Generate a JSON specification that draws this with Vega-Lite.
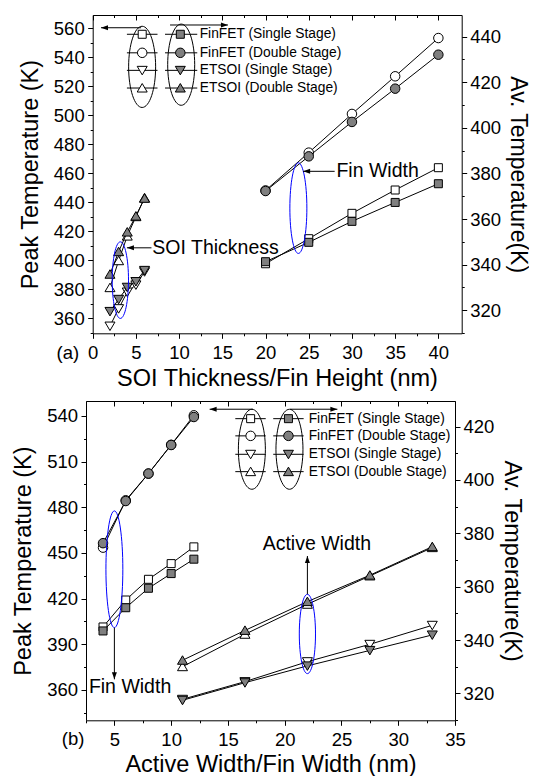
{
"$schema":"https://vega.github.io/schema/vega-lite/v6.json",
"padding":{"left":11,"top":14,"right":0,"bottom":0},
"spacing":9,
"config":{"font":"Liberation Sans","view":{"stroke":null},
"axis":{"grid":false,"domainColor":"black","domainWidth":1,"tickColor":"black","tickWidth":1,"labelColor":"black","labelFont":"Liberation Sans","labelFontSize":18.5,"titleFont":"Liberation Sans","titleFontSize":23.5,"titleFontWeight":"normal","titleColor":"black","labelOverlap":false,"labelFlush":false},
"text":{"font":"Liberation Sans","color":"black"}},
"datasets":{
"a_peak":[
{"series":"FinFET Single","x":20,"t":397.5},{"series":"FinFET Single","x":25,"t":414.8},{"series":"FinFET Single","x":30,"t":432.3},{"series":"FinFET Single","x":35,"t":448.4},{"series":"FinFET Single","x":40,"t":463.8},
{"series":"FinFET Double","x":20,"t":448.1},{"series":"FinFET Double","x":25,"t":474.2},{"series":"FinFET Double","x":30,"t":500.9},{"series":"FinFET Double","x":35,"t":526.9},{"series":"FinFET Double","x":40,"t":553.3},
{"series":"ETSOI Single","x":2,"t":354.5},{"series":"ETSOI Single","x":3,"t":366.5},{"series":"ETSOI Single","x":4,"t":378},{"series":"ETSOI Single","x":5,"t":382.9},{"series":"ETSOI Single","x":6,"t":392},
{"series":"ETSOI Double","x":2,"t":381},{"series":"ETSOI Double","x":3,"t":399.6},{"series":"ETSOI Double","x":4,"t":416.6},{"series":"ETSOI Double","x":5,"t":430},{"series":"ETSOI Double","x":6,"t":443}],
"a_avg":[
{"series":"FinFET Single","x":20,"t":341.3},{"series":"FinFET Single","x":25,"t":349.8},{"series":"FinFET Single","x":30,"t":359.0},{"series":"FinFET Single","x":35,"t":367.3},{"series":"FinFET Single","x":40,"t":375.5},
{"series":"FinFET Double","x":20,"t":372.3},{"series":"FinFET Double","x":25,"t":387.5},{"series":"FinFET Double","x":30,"t":402.6},{"series":"FinFET Double","x":35,"t":417.2},{"series":"FinFET Double","x":40,"t":432.1},
{"series":"ETSOI Single","x":2,"t":319.5},{"series":"ETSOI Single","x":3,"t":324.8},{"series":"ETSOI Single","x":4,"t":330.1},{"series":"ETSOI Single","x":5,"t":332.6},{"series":"ETSOI Single","x":6,"t":337.5},
{"series":"ETSOI Double","x":2,"t":335.8},{"series":"ETSOI Double","x":3,"t":345.7},{"series":"ETSOI Double","x":4,"t":354.3},{"series":"ETSOI Double","x":5,"t":361.3},{"series":"ETSOI Double","x":6,"t":369.1}],
"b_peak":[
{"series":"FinFET Single","x":4,"t":401.4},{"series":"FinFET Single","x":6,"t":419.1},{"series":"FinFET Single","x":8,"t":432.7},{"series":"FinFET Single","x":10,"t":443.0},{"series":"FinFET Single","x":12,"t":454.0},
{"series":"FinFET Double","x":4,"t":453.5},{"series":"FinFET Double","x":6,"t":484.6},{"series":"FinFET Double","x":8,"t":502.1},{"series":"FinFET Double","x":10,"t":521.0},{"series":"FinFET Double","x":12,"t":540.4},
{"series":"ETSOI Single","x":11,"t":353.9},{"series":"ETSOI Single","x":16.5,"t":365.5},{"series":"ETSOI Single","x":22,"t":378.6},{"series":"ETSOI Single","x":27.5,"t":390.0},{"series":"ETSOI Single","x":33,"t":402.5},
{"series":"ETSOI Double","x":11,"t":375.3},{"series":"ETSOI Double","x":16.5,"t":396.6},{"series":"ETSOI Double","x":22,"t":416.3},{"series":"ETSOI Double","x":27.5,"t":434.9},{"series":"ETSOI Double","x":33,"t":453.5}],
"b_avg":[
{"series":"FinFET Single","x":4,"t":343.4},{"series":"FinFET Single","x":6,"t":352.1},{"series":"FinFET Single","x":8,"t":359.4},{"series":"FinFET Single","x":10,"t":364.9},{"series":"FinFET Single","x":12,"t":370.3},
{"series":"FinFET Double","x":4,"t":376.3},{"series":"FinFET Double","x":6,"t":392.1},{"series":"FinFET Double","x":8,"t":402.4},{"series":"FinFET Double","x":10,"t":413.1},{"series":"FinFET Double","x":12,"t":423.6},
{"series":"ETSOI Single","x":11,"t":317.4},{"series":"ETSOI Single","x":16.5,"t":324.0},{"series":"ETSOI Single","x":22,"t":330.3},{"series":"ETSOI Single","x":27.5,"t":336.1},{"series":"ETSOI Single","x":33,"t":341.9},
{"series":"ETSOI Double","x":11,"t":332.4},{"series":"ETSOI Double","x":16.5,"t":343.6},{"series":"ETSOI Double","x":22,"t":354.4},{"series":"ETSOI Double","x":27.5,"t":364.3},{"series":"ETSOI Double","x":33,"t":375.0}],
"leg_a":[{"series":"FinFET Single","label":"FinFET (Single Stage)","y":555.9},{"series":"FinFET Double","label":"FinFET (Double Stage)","y":543.1},{"series":"ETSOI Single","label":"ETSOI (Single Stage)","y":531.0},{"series":"ETSOI Double","label":"ETSOI (Double Stage)","y":518.8}],
"leg_b":[{"series":"FinFET Single","label":"FinFET (Single Stage)","y":538.2},{"series":"FinFET Double","label":"FinFET (Double Stage)","y":526.9},{"series":"ETSOI Single","label":"ETSOI (Single Stage)","y":514.8},{"series":"ETSOI Double","label":"ETSOI (Double Stage)","y":503.4}],
"ell_a":[{"e":"soi","x":3.2,"y":386.2},{"e":"fin","x":23.8,"y":435.9},{"e":"leg1","x":5.72,"y":533.4},{"e":"leg2","x":10.24,"y":534.9}],
"ell_b":[{"e":"fin","x":5.0,"y":439.3},{"e":"act","x":22.0,"y":396.8},{"e":"leg1","x":17.11,"y":518.1},{"e":"leg2","x":20.42,"y":518.1}],
"arr_a":[{"dir":"left","x":5.6,"y":560.4,"x2":0.96,"y2":560.4},{"dir":"right","x":8.95,"y":562.3,"x2":15.65,"y2":562.3},{"dir":"left","x":6.8,"y":408.5,"x2":3.96,"y2":408.5},{"dir":"left","x":28.0,"y":461.3,"x2":24.35,"y2":461.3}],
"arr_b":[{"dir":"left","x":17.2,"y":544.4,"x2":13.39,"y2":544.4},{"dir":"right","x":20.48,"y":544.4,"x2":24.64,"y2":544.4},{"dir":"down","x":5.0,"y":400.9,"x2":5.0,"y2":367.0},{"dir":"up","x":22.0,"y":422.9,"x2":22.0,"y2":448.0}],
"txt_a":[{"label":"SOI Thickness","x":6.9,"y":408.5},{"label":"Fin Width","x":28.2,"y":461.3}],
"txt_b":[{"label":"Fin Width","x":6.38,"y":362.2},{"label":"Active Width","x":22.83,"y":455.7}],
"tag_a":[{"label":"(a)","x":-2.87,"y":335.8}],
"tag_b":[{"label":"(b)","x":1.36,"y":328}]
},
"vconcat":[
{
"width":375.7,"height":318.3,
"resolve":{"scale":{"x":"independent","y":"independent","shape":"independent","stroke":"independent"},"axis":{"x":"independent","y":"independent"}},
"layer":[
{"data":{"name":"a_peak"},"mark":{"type":"line","color":"black","strokeWidth":1},
"encoding":{"x":{"field":"x","type":"quantitative","scale":{"domain":[-0.775,42.7],"nice":false,"zero":false},
"axis":{"orient":"bottom","values":[0,2.5,5,7.5,10,12.5,15,17.5,20,22.5,25,27.5,30,32.5,35,37.5,40],"labelExpr":"datum.value % 5 === 0 ? datum.label : ''","tickSize":{"condition":{"test":"datum.value % 5 === 0","value":5},"value":2.5},"labelPadding":5,"labelOverlap":false,"labelFlush":false,"domainDash":[0,6.7,400,1],"title":"SOI Thickness/Fin Height (nm)","titlePadding":5,"titleX":191}},
"y":{"field":"t","type":"quantitative","scale":{"domain":[349.5,569.2],"nice":false,"zero":false},
"axis":{"orient":"left","offset":-6.7,"values":[350,360,370,380,390,400,410,420,430,440,450,460,470,480,490,500,510,520,530,540,550,560],"labelExpr":"datum.value % 20 === 0 ? datum.label : ''","tickSize":{"condition":{"test":"datum.value % 20 === 0","value":5},"value":2.5},"labelPadding":3.5,"labelOverlap":false,"title":"Peak Temperature (K)","titlePadding":11}},
"detail":{"field":"series"}}},
{"data":{"name":"a_peak"},"mark":{"type":"point","filled":true,"fill":"white","stroke":"black","strokeWidth":1,"size":100,"opacity":1},
"encoding":{"x":{"field":"x","type":"quantitative","scale":{"domain":[-0.775,42.7],"nice":false,"zero":false},"axis":null},
"y":{"field":"t","type":"quantitative","scale":{"domain":[349.5,569.2],"nice":false,"zero":false},"axis":null},
"shape":{"field":"series","type":"nominal","scale":{"domain":["FinFET Single","FinFET Double","ETSOI Single","ETSOI Double"],"range":["M-0.8,-0.8L0.8,-0.8L0.8,0.8L-0.8,0.8Z","M0,-0.95C0.525,-0.95 0.95,-0.525 0.95,0C0.95,0.525 0.525,0.95 0,0.95C-0.525,0.95 -0.95,0.525 -0.95,0C-0.95,-0.525 -0.525,-0.95 0,-0.95Z","M-1,-0.8L1,-0.8L0,0.9Z","M0,-0.9L1,0.8L-1,0.8Z"]},"legend":null}}},
{"data":{"name":"a_avg"},"mark":{"type":"line","color":"black","strokeWidth":1},
"encoding":{"x":{"field":"x","type":"quantitative","scale":{"domain":[-0.775,42.7],"nice":false,"zero":false},
"axis":{"orient":"top","values":[0,2.5,5,7.5,10,12.5,15,17.5,20,22.5,25,27.5,30,32.5,35,37.5,40],"labels":false,"tickSize":{"condition":{"test":"datum.value % 5 === 0","value":-5},"value":-2.5},"domainDash":[0,6.7,400,1],"title":null}},
"y":{"field":"t","type":"quantitative","scale":{"domain":[309.9,449.5],"nice":false,"zero":false},
"axis":{"orient":"right","values":[310,320,330,340,350,360,370,380,390,400,410,420,430,440],"labelExpr":"datum.value % 20 === 0 ? datum.label : ''","tickSize":{"condition":{"test":"datum.value % 20 === 0","value":5},"value":2.5},"labelPadding":3,"labelOverlap":false,"title":"Av. Temperature(K)","titleFontSize":23,"titlePadding":5}},
"detail":{"field":"series"}}},
{"data":{"name":"a_avg"},"mark":{"type":"point","filled":true,"fill":"#7f7f7f","stroke":"black","strokeWidth":1,"size":100,"opacity":1},
"encoding":{"x":{"field":"x","type":"quantitative","scale":{"domain":[-0.775,42.7],"nice":false,"zero":false},"axis":null},
"y":{"field":"t","type":"quantitative","scale":{"domain":[309.9,449.5],"nice":false,"zero":false},"axis":null},
"shape":{"field":"series","type":"nominal","scale":{"domain":["FinFET Single","FinFET Double","ETSOI Single","ETSOI Double"],"range":["M-0.8,-0.8L0.8,-0.8L0.8,0.8L-0.8,0.8Z","M0,-0.95C0.525,-0.95 0.95,-0.525 0.95,0C0.95,0.525 0.525,0.95 0,0.95C-0.525,0.95 -0.95,0.525 -0.95,0C-0.95,-0.525 -0.525,-0.95 0,-0.95Z","M-1,-0.8L1,-0.8L0,0.9Z","M0,-0.9L1,0.8L-1,0.8Z"]},"legend":null}}},
{"data":{"name":"leg_a"},"mark":{"type":"rule","color":"black","strokeWidth":1},
"encoding":{"x":{"datum":3.96,"type":"quantitative","scale":{"domain":[-0.775,42.7],"nice":false,"zero":false},"axis":null},"x2":{"datum":7.5},
"y":{"field":"y","type":"quantitative","scale":{"domain":[349.5,569.2],"nice":false,"zero":false},"axis":null}}},
{"data":{"name":"leg_a"},"mark":{"type":"rule","color":"black","strokeWidth":1},
"encoding":{"x":{"datum":8.37,"type":"quantitative","scale":{"domain":[-0.775,42.7],"nice":false,"zero":false},"axis":null},"x2":{"datum":12.1},
"y":{"field":"y","type":"quantitative","scale":{"domain":[349.5,569.2],"nice":false,"zero":false},"axis":null}}},
{"data":{"name":"leg_a"},"mark":{"type":"point","filled":true,"fill":"white","stroke":"black","strokeWidth":1,"size":100,"opacity":1},
"encoding":{"x":{"datum":5.73,"type":"quantitative","scale":{"domain":[-0.775,42.7],"nice":false,"zero":false},"axis":null},
"y":{"field":"y","type":"quantitative","scale":{"domain":[349.5,569.2],"nice":false,"zero":false},"axis":null},
"shape":{"field":"series","type":"nominal","scale":{"domain":["FinFET Single","FinFET Double","ETSOI Single","ETSOI Double"],"range":["M-0.8,-0.8L0.8,-0.8L0.8,0.8L-0.8,0.8Z","M0,-0.95C0.525,-0.95 0.95,-0.525 0.95,0C0.95,0.525 0.525,0.95 0,0.95C-0.525,0.95 -0.95,0.525 -0.95,0C-0.95,-0.525 -0.525,-0.95 0,-0.95Z","M-1,-0.8L1,-0.8L0,0.9Z","M0,-0.9L1,0.8L-1,0.8Z"]},"legend":null}}},
{"data":{"name":"leg_a"},"mark":{"type":"point","filled":true,"fill":"#7f7f7f","stroke":"black","strokeWidth":1,"size":100,"opacity":1},
"encoding":{"x":{"datum":10.14,"type":"quantitative","scale":{"domain":[-0.775,42.7],"nice":false,"zero":false},"axis":null},
"y":{"field":"y","type":"quantitative","scale":{"domain":[349.5,569.2],"nice":false,"zero":false},"axis":null},
"shape":{"field":"series","type":"nominal","scale":{"domain":["FinFET Single","FinFET Double","ETSOI Single","ETSOI Double"],"range":["M-0.8,-0.8L0.8,-0.8L0.8,0.8L-0.8,0.8Z","M0,-0.95C0.525,-0.95 0.95,-0.525 0.95,0C0.95,0.525 0.525,0.95 0,0.95C-0.525,0.95 -0.95,0.525 -0.95,0C-0.95,-0.525 -0.525,-0.95 0,-0.95Z","M-1,-0.8L1,-0.8L0,0.9Z","M0,-0.9L1,0.8L-1,0.8Z"]},"legend":null}}},
{"data":{"name":"leg_a"},"mark":{"type":"text","align":"left","baseline":"middle","fontSize":13.8,"color":"black"},
"encoding":{"x":{"datum":12.38,"type":"quantitative","scale":{"domain":[-0.775,42.7],"nice":false,"zero":false},"axis":null},
"y":{"field":"y","type":"quantitative","scale":{"domain":[349.5,569.2],"nice":false,"zero":false},"axis":null},
"text":{"field":"label"}}},
{"data":{"name":"ell_a"},"mark":{"type":"point","filled":false,"size":400,"strokeWidth":1,"opacity":1},
"encoding":{"x":{"field":"x","type":"quantitative","scale":{"domain":[-0.775,42.7],"nice":false,"zero":false},"axis":null},
"y":{"field":"y","type":"quantitative","scale":{"domain":[349.5,569.2],"nice":false,"zero":false},"axis":null},
"shape":{"field":"e","type":"nominal","scale":{"domain":["soi","fin","leg1","leg2"],"range":["M0,-3.83C0.45,-3.83 0.815,-2.115 0.815,0C0.815,2.115 0.45,3.83 0,3.83C-0.45,3.83 -0.815,2.115 -0.815,0C-0.815,-2.115 -0.45,-3.83 0,-3.83Z","M0,-4.53C0.469,-4.53 0.85,-2.502 0.85,0C0.85,2.502 0.469,4.53 0,4.53C-0.469,4.53 -0.85,2.502 -0.85,0C-0.85,-2.502 -0.469,-4.53 0,-4.53Z","M0,-4.06C0.746,-4.06 1.35,-2.242 1.35,0C1.35,2.242 0.746,4.06 0,4.06C-0.746,4.06 -1.35,2.242 -1.35,0C-1.35,-2.242 -0.746,-4.06 0,-4.06Z","M0,-4.06C0.746,-4.06 1.35,-2.242 1.35,0C1.35,2.242 0.746,4.06 0,4.06C-0.746,4.06 -1.35,2.242 -1.35,0C-1.35,-2.242 -0.746,-4.06 0,-4.06Z"]},"legend":null},
"stroke":{"field":"e","type":"nominal","scale":{"domain":["soi","fin","leg1","leg2"],"range":["#0000ff","#0000ff","black","black"]},"legend":null}}},
{"data":{"name":"arr_a"},"mark":{"type":"rule","color":"black","strokeWidth":1},
"encoding":{"x":{"field":"x","type":"quantitative","scale":{"domain":[-0.775,42.7],"nice":false,"zero":false},"axis":null},"x2":{"field":"x2"},
"y":{"field":"y","type":"quantitative","scale":{"domain":[349.5,569.2],"nice":false,"zero":false},"axis":null},"y2":{"field":"y2"}}},
{"data":{"name":"arr_a"},"mark":{"type":"point","filled":true,"color":"black","strokeWidth":0,"size":400,"opacity":1},
"encoding":{"x":{"field":"x2","type":"quantitative","scale":{"domain":[-0.775,42.7],"nice":false,"zero":false},"axis":null},
"y":{"field":"y2","type":"quantitative","scale":{"domain":[349.5,569.2],"nice":false,"zero":false},"axis":null},
"shape":{"field":"dir","type":"nominal","scale":{"domain":["left","right","up","down"],"range":["M0,0L0.7,-0.25L0.7,0.25Z","M0,0L-0.7,-0.25L-0.7,0.25Z","M0,0L-0.25,0.7L0.25,0.7Z","M0,0L-0.25,-0.7L0.25,-0.7Z"]},"legend":null}}},
{"data":{"name":"txt_a"},"mark":{"type":"text","align":"left","baseline":"middle","fontSize":19.5,"color":"black"},
"encoding":{"x":{"field":"x","type":"quantitative","scale":{"domain":[-0.775,42.7],"nice":false,"zero":false},"axis":null},
"y":{"field":"y","type":"quantitative","scale":{"domain":[349.5,569.2],"nice":false,"zero":false},"axis":null},"text":{"field":"label"}}},
{"data":{"name":"tag_a"},"mark":{"type":"text","align":"center","baseline":"middle","fontSize":18.5,"color":"black"},
"encoding":{"x":{"field":"x","type":"quantitative","scale":{"domain":[-0.775,42.7],"nice":false,"zero":false},"axis":null},
"y":{"field":"y","type":"quantitative","scale":{"domain":[349.5,569.2],"nice":false,"zero":false},"axis":null},"text":{"field":"label"}}}
]
},
{
"width":369,"height":319.3,
"resolve":{"scale":{"x":"independent","y":"independent","shape":"independent","stroke":"independent"},"axis":{"x":"independent","y":"independent"}},
"layer":[
{"data":{"name":"b_peak"},"mark":{"type":"line","color":"black","strokeWidth":1},
"encoding":{"x":{"field":"x","type":"quantitative","scale":{"domain":[2.5,35],"nice":false,"zero":false},
"axis":{"orient":"bottom","values":[2.5,5,7.5,10,12.5,15,17.5,20,22.5,25,27.5,30,32.5,35],"labelExpr":"datum.value % 5 === 0 ? datum.label : ''","tickSize":{"condition":{"test":"datum.value % 5 === 0","value":5},"value":2.5},"labelPadding":5,"labelOverlap":false,"labelFlush":false,"title":"Active Width/Fin Width (nm)","titlePadding":4}},
"y":{"field":"t","type":"quantitative","scale":{"domain":[340.1,549.8],"nice":false,"zero":false},
"axis":{"orient":"left","values":[345,360,375,390,405,420,435,450,465,480,495,510,525,540],"labelExpr":"datum.value % 30 === 0 ? datum.label : ''","tickSize":{"condition":{"test":"datum.value % 30 === 0","value":5},"value":2.5},"labelPadding":3.5,"labelOverlap":false,"title":"Peak Temperature (K)","titlePadding":11}},
"detail":{"field":"series"}}},
{"data":{"name":"b_peak"},"mark":{"type":"point","filled":true,"fill":"white","stroke":"black","strokeWidth":1,"size":100,"opacity":1},
"encoding":{"x":{"field":"x","type":"quantitative","scale":{"domain":[2.5,35],"nice":false,"zero":false},"axis":null},
"y":{"field":"t","type":"quantitative","scale":{"domain":[340.1,549.8],"nice":false,"zero":false},"axis":null},
"shape":{"field":"series","type":"nominal","scale":{"domain":["FinFET Single","FinFET Double","ETSOI Single","ETSOI Double"],"range":["M-0.8,-0.8L0.8,-0.8L0.8,0.8L-0.8,0.8Z","M0,-0.95C0.525,-0.95 0.95,-0.525 0.95,0C0.95,0.525 0.525,0.95 0,0.95C-0.525,0.95 -0.95,0.525 -0.95,0C-0.95,-0.525 -0.525,-0.95 0,-0.95Z","M-1,-0.8L1,-0.8L0,0.9Z","M0,-0.9L1,0.8L-1,0.8Z"]},"legend":null}}},
{"data":{"name":"b_avg"},"mark":{"type":"line","color":"black","strokeWidth":1},
"encoding":{"x":{"field":"x","type":"quantitative","scale":{"domain":[2.5,35],"nice":false,"zero":false},
"axis":{"orient":"top","values":[2.5,5,7.5,10,12.5,15,17.5,20,22.5,25,27.5,30,32.5,35],"labels":false,"tickSize":{"condition":{"test":"datum.value % 5 === 0","value":-5},"value":-2.5},"title":null}},
"y":{"field":"t","type":"quantitative","scale":{"domain":[309.9,429.6],"nice":false,"zero":false},
"axis":{"orient":"right","values":[310,320,330,340,350,360,370,380,390,400,410,420],"labelExpr":"datum.value % 20 === 0 ? datum.label : ''","tickSize":{"condition":{"test":"datum.value % 20 === 0","value":5},"value":2.5},"labelPadding":3,"labelOverlap":false,"title":"Av. Temperature(K)","titleFontSize":23.5,"titlePadding":6}},
"detail":{"field":"series"}}},
{"data":{"name":"b_avg"},"mark":{"type":"point","filled":true,"fill":"#7f7f7f","stroke":"black","strokeWidth":1,"size":100,"opacity":1},
"encoding":{"x":{"field":"x","type":"quantitative","scale":{"domain":[2.5,35],"nice":false,"zero":false},"axis":null},
"y":{"field":"t","type":"quantitative","scale":{"domain":[309.9,429.6],"nice":false,"zero":false},"axis":null},
"shape":{"field":"series","type":"nominal","scale":{"domain":["FinFET Single","FinFET Double","ETSOI Single","ETSOI Double"],"range":["M-0.8,-0.8L0.8,-0.8L0.8,0.8L-0.8,0.8Z","M0,-0.95C0.525,-0.95 0.95,-0.525 0.95,0C0.95,0.525 0.525,0.95 0,0.95C-0.525,0.95 -0.95,0.525 -0.95,0C-0.95,-0.525 -0.525,-0.95 0,-0.95Z","M-1,-0.8L1,-0.8L0,0.9Z","M0,-0.9L1,0.8L-1,0.8Z"]},"legend":null}}},
{"data":{"name":"leg_b"},"mark":{"type":"rule","color":"black","strokeWidth":1},
"encoding":{"x":{"datum":15.65,"type":"quantitative","scale":{"domain":[2.5,35],"nice":false,"zero":false},"axis":null},"x2":{"datum":18.33},
"y":{"field":"y","type":"quantitative","scale":{"domain":[340.1,549.8],"nice":false,"zero":false},"axis":null}}},
{"data":{"name":"leg_b"},"mark":{"type":"rule","color":"black","strokeWidth":1},
"encoding":{"x":{"datum":18.99,"type":"quantitative","scale":{"domain":[2.5,35],"nice":false,"zero":false},"axis":null},"x2":{"datum":21.67},
"y":{"field":"y","type":"quantitative","scale":{"domain":[340.1,549.8],"nice":false,"zero":false},"axis":null}}},
{"data":{"name":"leg_b"},"mark":{"type":"point","filled":true,"fill":"white","stroke":"black","strokeWidth":1,"size":100,"opacity":1},
"encoding":{"x":{"datum":17.0,"type":"quantitative","scale":{"domain":[2.5,35],"nice":false,"zero":false},"axis":null},
"y":{"field":"y","type":"quantitative","scale":{"domain":[340.1,549.8],"nice":false,"zero":false},"axis":null},
"shape":{"field":"series","type":"nominal","scale":{"domain":["FinFET Single","FinFET Double","ETSOI Single","ETSOI Double"],"range":["M-0.8,-0.8L0.8,-0.8L0.8,0.8L-0.8,0.8Z","M0,-0.95C0.525,-0.95 0.95,-0.525 0.95,0C0.95,0.525 0.525,0.95 0,0.95C-0.525,0.95 -0.95,0.525 -0.95,0C-0.95,-0.525 -0.525,-0.95 0,-0.95Z","M-1,-0.8L1,-0.8L0,0.9Z","M0,-0.9L1,0.8L-1,0.8Z"]},"legend":null}}},
{"data":{"name":"leg_b"},"mark":{"type":"point","filled":true,"fill":"#7f7f7f","stroke":"black","strokeWidth":1,"size":100,"opacity":1},
"encoding":{"x":{"datum":20.33,"type":"quantitative","scale":{"domain":[2.5,35],"nice":false,"zero":false},"axis":null},
"y":{"field":"y","type":"quantitative","scale":{"domain":[340.1,549.8],"nice":false,"zero":false},"axis":null},
"shape":{"field":"series","type":"nominal","scale":{"domain":["FinFET Single","FinFET Double","ETSOI Single","ETSOI Double"],"range":["M-0.8,-0.8L0.8,-0.8L0.8,0.8L-0.8,0.8Z","M0,-0.95C0.525,-0.95 0.95,-0.525 0.95,0C0.95,0.525 0.525,0.95 0,0.95C-0.525,0.95 -0.95,0.525 -0.95,0C-0.95,-0.525 -0.525,-0.95 0,-0.95Z","M-1,-0.8L1,-0.8L0,0.9Z","M0,-0.9L1,0.8L-1,0.8Z"]},"legend":null}}},
{"data":{"name":"leg_b"},"mark":{"type":"text","align":"left","baseline":"middle","fontSize":13.8,"color":"black"},
"encoding":{"x":{"datum":22.11,"type":"quantitative","scale":{"domain":[2.5,35],"nice":false,"zero":false},"axis":null},
"y":{"field":"y","type":"quantitative","scale":{"domain":[340.1,549.8],"nice":false,"zero":false},"axis":null},
"text":{"field":"label"}}},
{"data":{"name":"ell_b"},"mark":{"type":"point","filled":false,"size":400,"strokeWidth":1,"opacity":1},
"encoding":{"x":{"field":"x","type":"quantitative","scale":{"domain":[2.5,35],"nice":false,"zero":false},"axis":null},
"y":{"field":"y","type":"quantitative","scale":{"domain":[340.1,549.8],"nice":false,"zero":false},"axis":null},
"shape":{"field":"e","type":"nominal","scale":{"domain":["fin","act","leg1","leg2"],"range":["M0,-5.835C0.467,-5.835 0.845,-3.223 0.845,0C0.845,3.223 0.467,5.835 0,5.835C-0.467,5.835 -0.845,3.223 -0.845,0C-0.845,-3.223 -0.467,-5.835 0,-5.835Z","M0,-3.965C0.447,-3.965 0.81,-2.19 0.81,0C0.81,2.19 0.447,3.965 0,3.965C-0.447,3.965 -0.81,2.19 -0.81,0C-0.81,-2.19 -0.447,-3.965 0,-3.965Z","M0,-4C0.746,-4 1.35,-2.209 1.35,0C1.35,2.209 0.746,4 0,4C-0.746,4 -1.35,2.209 -1.35,0C-1.35,-2.209 -0.746,-4 0,-4Z","M0,-4C0.746,-4 1.35,-2.209 1.35,0C1.35,2.209 0.746,4 0,4C-0.746,4 -1.35,2.209 -1.35,0C-1.35,-2.209 -0.746,-4 0,-4Z"]},"legend":null},
"stroke":{"field":"e","type":"nominal","scale":{"domain":["fin","act","leg1","leg2"],"range":["#0000ff","#0000ff","black","black"]},"legend":null}}},
{"data":{"name":"arr_b"},"mark":{"type":"rule","color":"black","strokeWidth":1},
"encoding":{"x":{"field":"x","type":"quantitative","scale":{"domain":[2.5,35],"nice":false,"zero":false},"axis":null},"x2":{"field":"x2"},
"y":{"field":"y","type":"quantitative","scale":{"domain":[340.1,549.8],"nice":false,"zero":false},"axis":null},"y2":{"field":"y2"}}},
{"data":{"name":"arr_b"},"mark":{"type":"point","filled":true,"color":"black","strokeWidth":0,"size":400,"opacity":1},
"encoding":{"x":{"field":"x2","type":"quantitative","scale":{"domain":[2.5,35],"nice":false,"zero":false},"axis":null},
"y":{"field":"y2","type":"quantitative","scale":{"domain":[340.1,549.8],"nice":false,"zero":false},"axis":null},
"shape":{"field":"dir","type":"nominal","scale":{"domain":["left","right","up","down"],"range":["M0,0L0.7,-0.25L0.7,0.25Z","M0,0L-0.7,-0.25L-0.7,0.25Z","M0,0L-0.25,0.7L0.25,0.7Z","M0,0L-0.25,-0.7L0.25,-0.7Z"]},"legend":null}}},
{"data":{"name":"txt_b"},"mark":{"type":"text","align":"center","baseline":"middle","fontSize":19.5,"color":"black"},
"encoding":{"x":{"field":"x","type":"quantitative","scale":{"domain":[2.5,35],"nice":false,"zero":false},"axis":null},
"y":{"field":"y","type":"quantitative","scale":{"domain":[340.1,549.8],"nice":false,"zero":false},"axis":null},"text":{"field":"label"}}},
{"data":{"name":"tag_b"},"mark":{"type":"text","align":"center","baseline":"middle","fontSize":18.5,"color":"black"},
"encoding":{"x":{"field":"x","type":"quantitative","scale":{"domain":[2.5,35],"nice":false,"zero":false},"axis":null},
"y":{"field":"y","type":"quantitative","scale":{"domain":[340.1,549.8],"nice":false,"zero":false},"axis":null},"text":{"field":"label"}}}
]
}
]
}
